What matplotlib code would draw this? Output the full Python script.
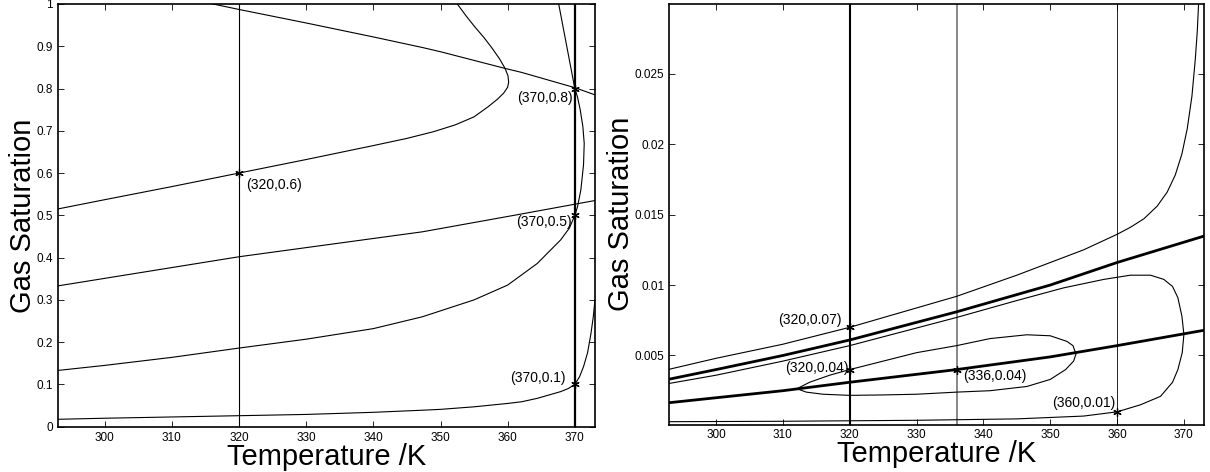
import numpy as np
import matplotlib
matplotlib.use("Agg")
import matplotlib.pyplot as plt
from matplotlib.ticker import FuncFormatter

plt.rcParams['font.family'] = ['Liberation Sans', 'DejaVu Sans']

# ============================================================
# 1. DATA - left panel (gas saturation 0..1)
# ============================================================

xticks = [300, 310, 320, 330, 340, 350, 360, 370]
yticks_left = [0, 0.1, 0.2, 0.3, 0.4, 0.5, 0.6, 0.7, 0.8, 0.9, 1.0]
yticks_right = [0.005, 0.01, 0.015, 0.02, 0.025]

# descending line through (370, 0.8)
T_desc = [316.1, 320, 330, 340, 347.3, 350, 359.5, 362.1, 370, 373]
S_desc = [1.0, 0.987, 0.955, 0.922, 0.897, 0.887, 0.848, 0.838, 0.802, 0.785]

# C-shaped curve through (320, 0.6)
T_c06 = [293, 300, 310, 320, 330, 340, 345, 349, 352.2, 355, 357.1, 358.5, 359.4, 360.0, 360.15,
         360.05, 359.6, 358.8, 357.7, 356.5, 355.1, 353.8, 352.5]
S_c06 = [0.515, 0.537, 0.568, 0.600, 0.632, 0.665, 0.682, 0.698, 0.714, 0.733, 0.757, 0.775, 0.789,
         0.803, 0.815, 0.830, 0.848, 0.870, 0.895, 0.920, 0.946, 0.972, 1.0]

# almost straight line crossing x=370 near 0.52
T_mid = [293, 320, 347.3, 361.3, 373]
S_mid = [0.333, 0.402, 0.461, 0.501, 0.535]

# curve through (370, 0.5), bulging right of 370
T_c05 = [293, 300, 310, 320, 330, 340, 347.3, 355, 360, 364.4, 367.9, 369.2, 370.0, 370.4, 370.9,
         371.3, 371.4, 371.2, 370.8, 370.4, 370.0, 369.4, 368.8, 368.2, 367.6]
S_c05 = [0.133, 0.145, 0.164, 0.186, 0.207, 0.232, 0.260, 0.300, 0.335, 0.386, 0.442, 0.470, 0.500, 0.520, 0.560,
         0.620, 0.670, 0.710, 0.750, 0.780, 0.800, 0.850, 0.900, 0.950, 1.0]

# bottom curve through (370, 0.1)
T_c01 = [293, 300, 310, 320, 330, 340, 347.3, 350, 355, 360, 362.1, 364.4, 367.9, 369, 370, 370.7,
         371.3, 371.9, 372.4, 372.75, 373]
S_c01 = [0.0175, 0.020, 0.023, 0.026, 0.029, 0.034, 0.039, 0.041, 0.047, 0.055, 0.059, 0.067, 0.083, 0.090,
         0.10, 0.118, 0.142, 0.175, 0.22, 0.26, 0.30]

pts_left_T = [320, 370, 370, 370]
pts_left_S = [0.6, 0.8, 0.5, 0.1]
pts_left_lab = ["(320,0.6)", "(370,0.8)", "(370,0.5)", "(370,0.1)"]

# ============================================================
# 2. DATA - right panel (small saturations)
# ============================================================

# upper thin curve through (320, 0.007), blows up near 372
T_b = [292.8, 300, 310, 320, 336, 345, 355, 360, 362, 364, 366, 367.5, 368.7, 369.7, 370.5, 371.2,
       371.7, 372.0, 372.2]
S_b = [0.0040, 0.0048, 0.0058, 0.0070, 0.0092, 0.0107, 0.0125, 0.0136, 0.0141, 0.0147, 0.0156, 0.0166,
       0.0178, 0.0193, 0.0211, 0.0234, 0.0260, 0.0280, 0.0300]

# thick upper line
T_thick1 = [292.8, 300, 310, 320, 336, 350, 360, 372.9]
S_thick1 = [0.0033, 0.0040, 0.0050, 0.0061, 0.0081, 0.0100, 0.0116, 0.01346]

# big loop (thin) closing at x~370, through (360, 0.001)
T_loop = [292.8, 300, 310, 320, 336, 345, 352, 358, 362, 365, 367, 368.3, 369.1, 369.7, 370.0,
          369.75, 369.1, 368.3, 366.5, 363.5, 360, 355, 345, 330, 310, 292.8]
S_loop = [0.0030, 0.0036, 0.0046, 0.0057, 0.0077, 0.0089, 0.0098, 0.0104, 0.0107, 0.0107, 0.0104, 0.0099,
          0.0091, 0.0078, 0.0065, 0.0052, 0.0040, 0.0031, 0.0021, 0.0015, 0.0010, 0.0007, 0.0005,
          0.0004, 0.00033, 0.0003]

# thick lower line through (336, 0.004)
T_thick2 = [292.8, 300, 310, 320, 336, 350, 360, 372.9]
S_thick2 = [0.00164, 0.0020, 0.0025, 0.0031, 0.0040, 0.0049, 0.0057, 0.00678]

# small closed loop through (320, 0.004)
T_small = [312.1, 314, 317, 320, 325, 330, 336, 341, 346.5, 350, 352.5, 353.4, 353.85, 353.5, 352.3, 350,
           346.5, 341, 336, 330, 325, 320, 316, 313.5, 312.1]
S_small = [0.00264, 0.0031, 0.0036, 0.0040, 0.0046, 0.0052, 0.0057, 0.0062, 0.00647, 0.0064, 0.0060,
           0.0057, 0.0051, 0.0046, 0.0040, 0.0033, 0.0028, 0.0025, 0.0024, 0.00225, 0.0022, 0.00217,
           0.00225, 0.0024, 0.00264]

pts_right_T = [320, 320, 336, 360]
pts_right_S = [0.007, 0.004, 0.004, 0.001]
pts_right_lab = ["(320,0.07)", "(320,0.04)", "(336,0.04)", "(360,0.01)"]

# ============================================================
# 3. FIGURE
# ============================================================

fig = plt.figure(figsize=(12.1, 4.72), dpi=100)
ax1 = fig.add_axes([0.0477, 0.0960, 0.4440, 0.8956])
ax2 = fig.add_axes([0.5531, 0.1006, 0.4419, 0.8909])

star = (6, 2, 0)  # asterisk like the matlab '*'
thin = dict(color="black", lw=0.8)

# --- left ---
ax1.axvline(320, color="black", lw=0.8)
ax1.axvline(370, color="black", lw=1.6)
ax1.plot(T_desc, S_desc, **thin)
ax1.plot(T_c06, S_c06, **thin)
ax1.plot(T_mid, S_mid, **thin)
ax1.plot(T_c05, S_c05, **thin)
ax1.plot(T_c01, S_c01, **thin)
ax1.plot(pts_left_T, pts_left_S, ls="none", marker=star, ms=6, mew=0.9, color="black")

offs_left = [(5, -8.6, "left"), (-1.5, -7, "right"), (-2.5, -4.5, "right"), (-6.5, 4.8, "right")]
for t, s, lab, (dx, dy, ha) in zip(pts_left_T, pts_left_S, pts_left_lab, offs_left):
    ax1.annotate(lab, (t, s), xytext=(dx, dy), textcoords="offset points",
                 ha=ha, va="center", fontsize=10)

ax1.set_xlim(293, 373)
ax1.set_ylim(0, 1)
ax1.set_yticks(yticks_left)

# --- right ---
ax2.axvline(320, color="black", lw=1.5)
ax2.axvline(336, color="0.45", lw=1.2)
ax2.axvline(360, color="black", lw=0.6)
ax2.plot(T_b, S_b, **thin)
ax2.plot(T_thick1, S_thick1, color="black", lw=2.0)
ax2.plot(T_loop, S_loop, **thin)
ax2.plot(T_thick2, S_thick2, color="black", lw=2.0)
ax2.plot(T_small, S_small, **thin)
ax2.plot(pts_right_T, pts_right_S, ls="none", marker=star, ms=6, mew=0.9, color="black")

offs_right = [(-6, 5.5, "right"), (-1, 1, "right"), (4.7, -4.8, "left"), (-1.5, 6.5, "right")]
for t, s, lab, (dx, dy, ha) in zip(pts_right_T, pts_right_S, pts_right_lab, offs_right):
    ax2.annotate(lab, (t, s), xytext=(dx, dy), textcoords="offset points",
                 ha=ha, va="center", fontsize=10)

ax2.set_xlim(293, 373)
ax2.set_ylim(0.0001, 0.02995)
ax2.set_yticks(yticks_right)

# common styling (matlab look)
for ax, ylab_x in [(ax1, -0.0385), (ax2, -0.0635)]:
    ax.set_xticks(xticks)
    ax.yaxis.set_major_formatter(FuncFormatter(lambda v, p: "%g" % v))
    ax.tick_params(direction="in", top=True, right=True, length=4, width=0.6, labelsize=8.5)
    for sp in ax.spines.values():
        sp.set_linewidth(1.2)
    ax.set_xlabel("Temperature /K", fontsize=21)
    ax.set_ylabel("Gas Saturation", fontsize=21)
    ax.xaxis.set_label_coords(0.5, -0.038)
    ax.yaxis.set_label_coords(ylab_x, 0.5)

fig.savefig("out.png", dpi=100)
